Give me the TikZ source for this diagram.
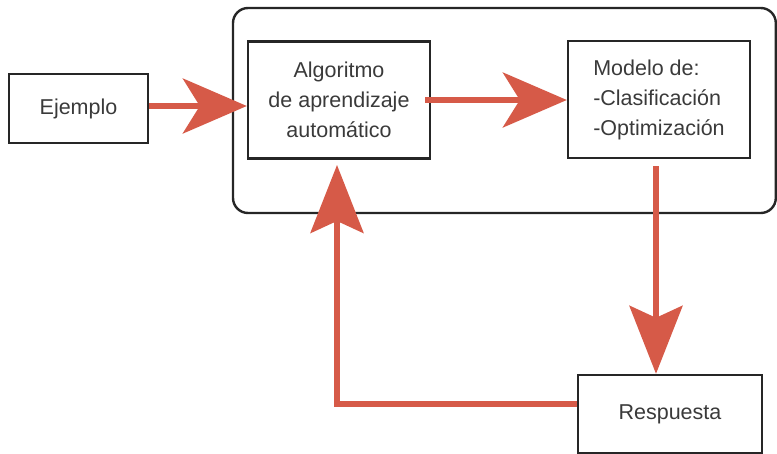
\documentclass[tikz,border=0pt]{standalone}
\usepackage{fontspec}
\setmainfont{Liberation Sans}
\usetikzlibrary{arrows.meta}
\definecolor{flowred}{HTML}{D65A48}
\definecolor{inktext}{HTML}{3A3A3A}
\begin{document}
\begin{tikzpicture}[x=1pt,y=-1pt,
  box/.style={draw=black!85, line width=2.4pt, rectangle, inner sep=0pt,
    font=\fontsize{21.5}{30}\selectfont, text=inktext},
  flow/.style={draw=flowred, line width=5.5pt},
  headH/.style={-{Stealth[length=64pt, width=55pt, inset=17pt, fill=flowred, color=flowred]}},
  headV/.style={-{Stealth[length=68pt, width=53pt, inset=12pt, fill=flowred, color=flowred]}}]
  \useasboundingbox (0,0) rectangle (777,453);

  % outer frame around learner and model
  \draw[black!85, line width=2.4pt, rounded corners=15pt] (233,8) rectangle (775.8,213);

  % boxes
  \node[box, minimum width=139pt, minimum height=69pt] (ej) at (78.5,108.5) {Ejemplo};
  \node[box, minimum width=182pt, minimum height=117pt, align=center] (alg) at (339,100)
    {Algoritmo\\de aprendizaje\\automático};
  \node[box, minimum width=182pt, minimum height=117pt, align=left] (mod) at (659,99.5)
    {Modelo de:\\-Clasificación\\-Optimización};
  \node[box, minimum width=184pt, minimum height=78pt] (resp) at (670,414) {Respuesta};

  \coordinate (modout) at (656,166);
  \coordinate (algout) at (425,100);
  \coordinate (corner) at (337,404);

  % connectors
  \draw[flow, headH] (ej.east |- 0,106) -- (alg.west |- 0,106);
  \draw[flow, headH] (algout) -- (mod.west |- algout);
  \draw[flow, headV] (modout) -- (modout |- resp.north);
  \draw[flow, headV] (resp.west |- corner) -- (corner) -- (corner |- 0,165);
\end{tikzpicture}
\end{document}
